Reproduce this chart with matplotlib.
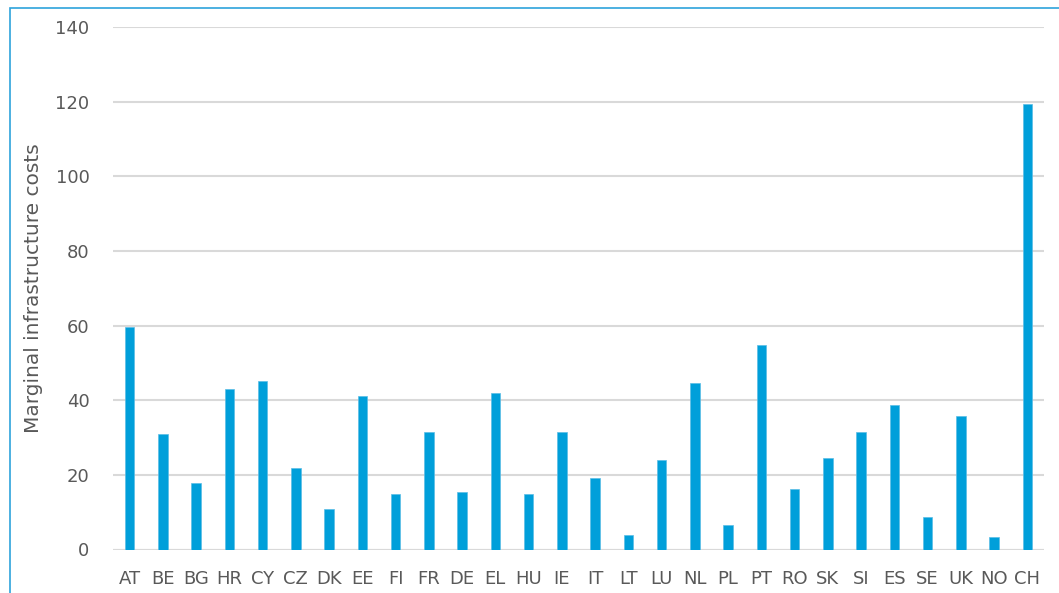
import matplotlib.pyplot as plt
from matplotlib.patches import Rectangle
import numpy as np

countries = ['AT', 'BE', 'BG', 'HR', 'CY', 'CZ', 'DK', 'EE', 'FI', 'FR', 'DE', 'EL', 'HU', 'IE',
             'IT', 'LT', 'LU', 'NL', 'PL', 'PT', 'RO', 'SK', 'SI', 'ES', 'SE', 'UK', 'NO', 'CH']
costs = [59.6, 30.9, 17.7, 43.1, 45.2, 21.9, 10.8, 41.0, 15.0, 31.4, 15.5, 42.0, 15.0, 31.4,
         19.2, 3.8, 24.0, 44.7, 6.5, 54.8, 16.1, 24.5, 31.4, 38.8, 8.6, 35.7, 3.3, 119.5]
yticks = [0, 20, 40, 60, 80, 100, 120, 140]

BAR_COLOR = '#009fda'
TEXT_COLOR = '#595959'
GRID_COLOR = '#d9d9d9'

plt.rcParams['font.family'] = ['DejaVu Sans']

fig = plt.figure(figsize=(10.59, 5.93), dpi=100)
ax = fig.add_axes([113 / 1059, 1 - 549.5 / 593, (1044 - 113) / 1059, (549.5 - 27) / 593])

# chart frame, running off the right and bottom edges
fig.patches.append(Rectangle((9.5 / 1059, -0.1), 1.2, 1 - 7.5 / 593 + 0.1,
                             transform=fig.transFigure, fill=False,
                             edgecolor='#2ea3dc', linewidth=1.2))

x = np.arange(len(countries))
ax.bar(x, costs, width=0.29, color=BAR_COLOR, edgecolor='#5bbde6', linewidth=0.5, zorder=3)

ax.set_xlim(-0.5, len(countries) - 0.5)
ax.set_ylim(0, 140)
ax.set_yticks(yticks)
ax.set_xticks(x)
ax.set_xticklabels(countries)
ax.yaxis.grid(True, color=GRID_COLOR, linewidth=1.5, zorder=0)
ax.set_axisbelow(True)
for s in ax.spines.values():
    s.set_visible(False)
ax.axhline(0, color=GRID_COLOR, linewidth=1.5, zorder=1)

ax.tick_params(axis='both', length=0, labelsize=13, labelcolor=TEXT_COLOR)
ax.tick_params(axis='y', pad=17)
ax.tick_params(axis='x', pad=15)
ax.set_ylabel('Marginal infrastructure costs', fontsize=14.5, color=TEXT_COLOR, labelpad=9)

fig.savefig('out.png', dpi=100)
